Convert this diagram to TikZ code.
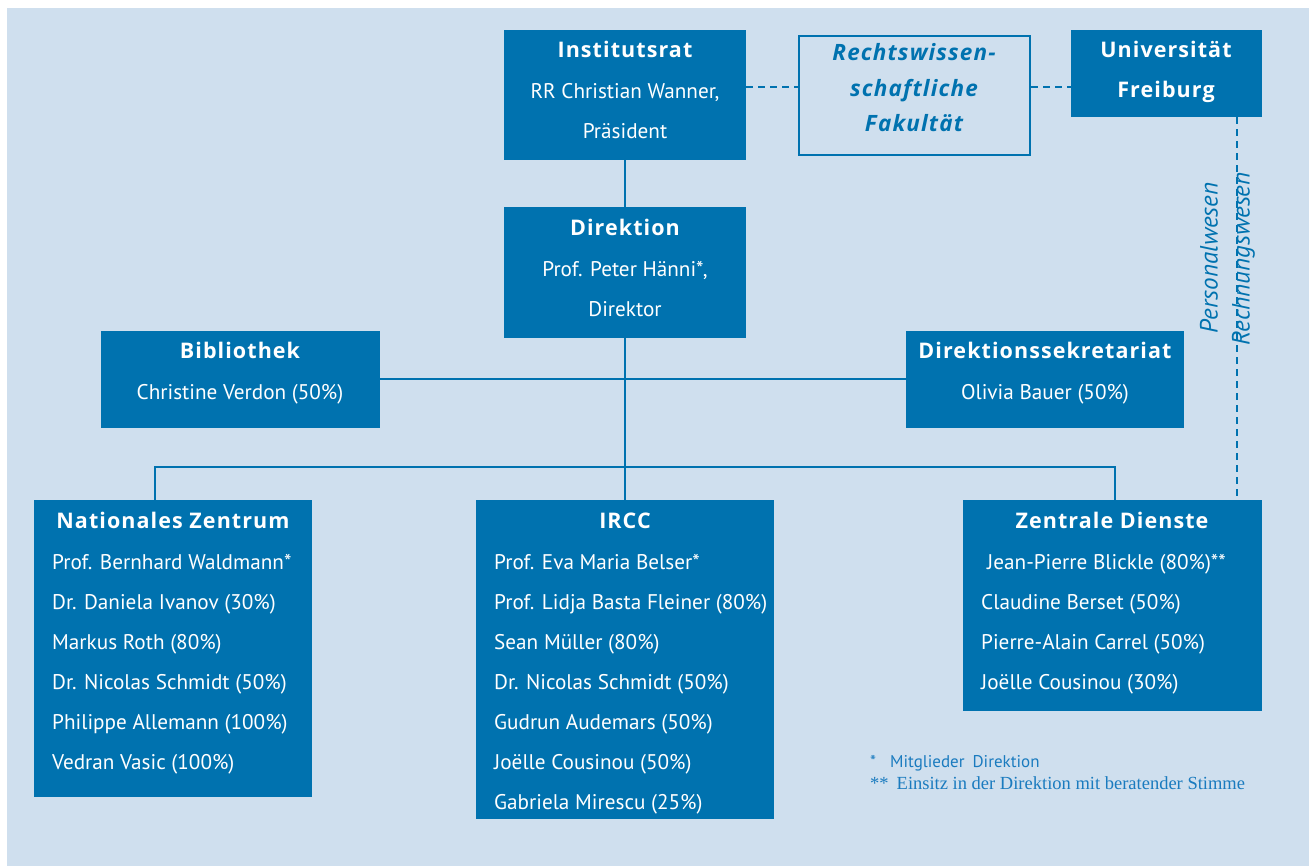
\documentclass[tikz,border=0pt]{standalone}
\usepackage{fontspec}
\setmainfont{PT Sans}
\newfontfamily\footserif{Liberation Serif}
\newfontfamily\titlefont{Open Sans}[LetterSpace=5]
\newfontfamily\italfont{Open Sans}[LetterSpace=5]
\definecolor{boxblue}{RGB}{0,114,175}
\definecolor{bgblue}{RGB}{207,223,238}
\definecolor{noteblue}{RGB}{26,123,191}
\begin{document}
\begin{tikzpicture}[x=1pt,y=-1pt,
  darkbox/.style={fill=boxblue,draw=none,anchor=north west,inner sep=0pt},
  outbox/.style={draw=boxblue,line width=2.2pt,fill=none,anchor=north west,inner sep=0pt},
  ttl/.style={text=white,font=\titlefont\bfseries\fontsize{21.5}{24}\selectfont,inner sep=0pt,anchor=mid,yshift=-5pt},
  txt/.style={text=white,font=\fontsize{21.2}{24}\selectfont,inner sep=0pt,anchor=mid,yshift=-6pt},
  ltxt/.style={text=white,font=\fontsize{21.2}{24}\selectfont,inner sep=0pt,anchor=mid west,yshift=-6pt},
  itxt/.style={text=boxblue,font=\italfont\bfseries\itshape\fontsize{22.5}{24}\selectfont,inner sep=0pt,anchor=mid,yshift=-6pt},
  conn/.style={draw=boxblue,line width=2pt},
  dconn/.style={draw=boxblue,line width=2pt,dash pattern=on 7pt off 5pt},
  rot/.style={text=boxblue,font=\fontsize{25}{28}\selectfont\itshape,inner sep=0pt,rotate=90,anchor=mid}
]
\useasboundingbox (0,0) rectangle (1309,866);
\fill[white] (0,0) rectangle (1309,866);
\fill[bgblue] (7,8) rectangle (1309,866);

% boxes
\node[darkbox,minimum width=242pt,minimum height=130pt] (inst) at (504,30) {};
\node[outbox,minimum width=231pt,minimum height=119pt] (rw) at (798,35) {};
\node[darkbox,minimum width=191pt,minimum height=87pt] (uni) at (1071,30) {};
\node[darkbox,minimum width=242pt,minimum height=131pt] (dir) at (504,207) {};
\node[darkbox,minimum width=279pt,minimum height=97pt] (bib) at (101,331) {};
\node[darkbox,minimum width=278pt,minimum height=97pt] (sek) at (906,331) {};
\node[darkbox,minimum width=278pt,minimum height=297pt] (nz) at (34,500) {};
\node[darkbox,minimum width=298pt,minimum height=319pt] (ircc) at (476,500) {};
\node[darkbox,minimum width=299pt,minimum height=211pt] (zd) at (963,500) {};

% connectors
\draw[conn] (inst.south) -- (dir.north);
\draw[conn] (dir.south) -- (ircc.north);
\draw[conn] (bib.east |- 0,379) -- (sek.west |- 0,379);
\coordinate (hl) at (155,467);
\coordinate (hr) at (1115,467);
\draw[conn] (nz.north -| hl) -- (hl) -- (hr) -- (zd.north -| hr);
\draw[dconn] (inst.east |- 0,87) -- (rw.west |- 0,87);
\draw[dconn] (rw.east |- 0,87) -- (uni.west |- 0,87);
\coordinate (vx) at (1237,0);
\draw[dconn] (uni.south -| vx) -- (zd.north -| vx);
\node[rot] (pw) at (1215,258) {Personalwesen};
\node[rot] (rwn) at (1247,259) {Rechnungswesen};

% texts
\node[ttl] (t1) at (625,50) {Institutsrat};
\node[txt] (t2) at (625,90) {RR Christian Wanner,};
\node[txt] (t3) at (625,130) {Präsident};

\node[itxt] (r1) at (914,52) {Rechtswissen-};
\node[itxt] (r2) at (914,88) {schaftliche};
\node[itxt] (r3) at (914,123) {Fakultät};

\node[ttl] (u1) at (1166,50) {Universität};
\node[ttl] (u2) at (1166,90) {Freiburg};

\node[ttl] (d1) at (625,228) {Direktion};
\node[txt] (d2) at (625,268) {Prof. Peter Hänni*,};
\node[txt] (d3) at (625,308) {Direktor};

\node[ttl] (b1) at (240,351) {Bibliothek};
\node[txt] (b2) at (240,391) {Christine Verdon (50\%)};

\node[ttl] (s1) at (1045,351) {Direktionssekretariat};
\node[txt] (s2) at (1045,391) {Olivia Bauer (50\%)};

\node[ttl] (n0) at (173,521) {Nationales Zentrum};
\node[ltxt] (n1) at (52,561) {Prof. Bernhard Waldmann*};
\node[ltxt] (n2) at (52,601) {Dr. Daniela Ivanov (30\%)};
\node[ltxt] (n3) at (52,641) {Markus Roth (80\%)};
\node[ltxt] (n4) at (52,681) {Dr. Nicolas Schmidt (50\%)};
\node[ltxt] (n5) at (52,721) {Philippe Allemann (100\%)};
\node[ltxt] (n6) at (52,761) {Vedran Vasic (100\%)};

\node[ttl] (i0) at (625,521) {IRCC};
\node[ltxt] (i1) at (494,561) {Prof. Eva Maria Belser*};
\node[ltxt] (i2) at (494,601) {Prof. Lidja Basta Fleiner (80\%)};
\node[ltxt] (i3) at (494,641) {Sean Müller (80\%)};
\node[ltxt] (i4) at (494,681) {Dr. Nicolas Schmidt (50\%)};
\node[ltxt] (i5) at (494,721) {Gudrun Audemars (50\%)};
\node[ltxt] (i6) at (494,761) {Joëlle Cousinou (50\%)};
\node[ltxt] (i7) at (494,801) {Gabriela Mirescu (25\%)};

\node[ttl] (z0) at (1112,521) {Zentrale Dienste};
\node[ltxt] (z1) at (987,561) {Jean-Pierre Blickle (80\%)**};
\node[ltxt] (z2) at (981,601) {Claudine Berset (50\%)};
\node[ltxt] (z3) at (981,641) {Pierre-Alain Carrel (50\%)};
\node[ltxt] (z4) at (981,681) {Joëlle Cousinou (30\%)};

% footnotes
\node[text=noteblue,font=\fontsize{17}{19}\selectfont,inner sep=0pt,anchor=mid west] (f1) at (870,765) {*\hspace{14pt}Mitglieder\hspace{8pt}Direktion};
\node[text=noteblue,font=\footserif\fontsize{18.5}{21}\selectfont,inner sep=0pt,anchor=mid west] (f2) at (870,787) {**\hspace{8pt}Einsitz in der Direktion mit beratender Stimme};
\end{tikzpicture}
\end{document}
